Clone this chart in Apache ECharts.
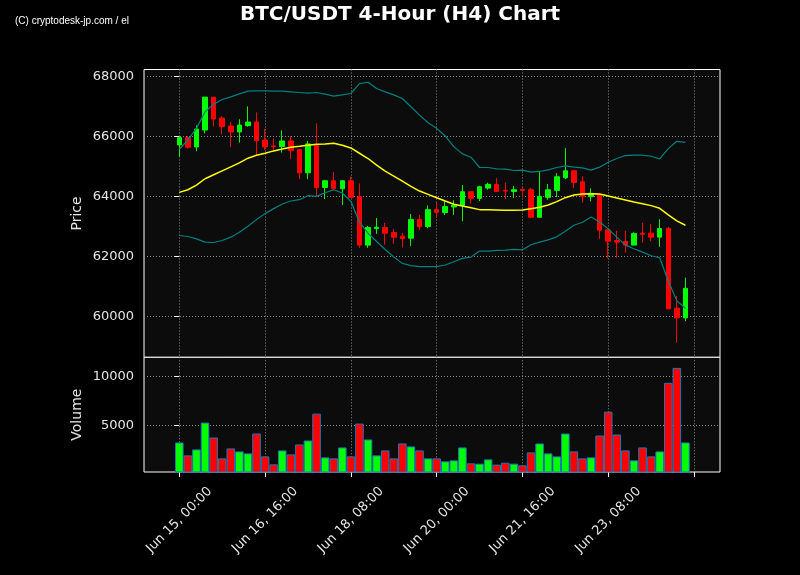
<!DOCTYPE html>
<html><head><meta charset="utf-8">
<script src="https://cdn.jsdelivr.net/npm/echarts@6/dist/echarts.min.js"></script>
<style>html,body{margin:0;padding:0;background:#000;} #c{width:800px;height:575px;}</style>
</head><body><div id="c"></div>
<script>
const openP  = [65713,65956,65646,66210,67304,66608,66342,66144,66354,66475,65878,65680,65657,65845,65558,64784,65713,64298,64519,64254,64519,63989,62376,62928,62962,62796,62674,62608,63226,62994,63558,63459,63646,63702,64155,63934,64276,64398,64199,64166,64232,64221,63304,63967,64199,64619,64851,64486,63989,64066,62884,62530,62497,62376,62773,62773,62641,62928,60276,59956];
const closeP = [65956,65635,66243,67304,66575,66320,66144,66376,66475,65856,65646,65657,65845,65525,64784,65746,64298,64519,64254,64519,63967,62376,62962,62972,62773,62641,62597,63226,62994,63558,63470,63658,63702,64155,63934,64320,64398,64166,64177,64221,64199,63304,64000,64221,64652,64851,64464,64000,64099,62873,62508,62475,62376,62762,62740,62641,62928,60254,59956,60939];
const lowP   = [65326,65591,65503,66099,66331,66066,65635,65790,66320,65381,65547,65547,65459,65238,64575,64575,64000,63912,64254,63713,63950,62287,62287,62751,62387,62420,62299,62343,62884,62939,63315,63382,63382,63171,63757,63845,64221,64166,63912,63945,63956,63271,63304,63889,63978,64575,64276,63790,63834,62586,61934,61956,62122,62376,62453,62508,62320,60254,59127,59845];
const highP  = [65960,66010,66365,67304,67304,66674,66475,66564,66994,66796,66243,65934,66199,66010,65558,65845,66431,64552,64807,64530,64652,64431,63017,63282,63117,62917,62785,63414,63381,63702,63779,63835,63868,64376,64160,64354,64453,64608,64453,64343,64320,64276,64807,64409,64774,65613,64860,64674,64265,64070,62890,62851,62851,62807,63117,63083,63238,62983,60685,61293];
const volume = [3278,1960,2568,5305,3784,1655,2669,2366,2163,4190,1859,1048,2467,2062,3075,3480,6217,1757,1655,2771,1859,5203,3582,1960,2467,1655,3176,2872,2467,1655,1655,1352,1453,2771,1150,1116,1555,1014,1217,1116,947,2264,3176,2163,1859,4190,2366,1655,1757,3987,6419,4089,2467,1453,2771,1859,2366,9358,10878,3278];
const bbMid  = [64133,64221,64376,64586,64718,64851,64983,65116,65271,65370,65436,65514,65580,65635,65668,65702,65735,65746,65768,65702,65613,65436,65260,65039,64840,64674,64508,64331,64177,64066,63956,63845,63735,63680,63624,63558,63558,63547,63536,63536,63547,63591,63635,63713,63823,63956,64044,64077,64088,64077,64011,63945,63879,63812,63757,63691,63602,63381,63182,63038];
const bbUpper = [65569,65878,66265,66818,67072,67227,67315,67414,67503,67514,67514,67503,67503,67481,67459,67437,67459,67403,67337,67381,67425,67757,67801,67591,67481,67381,67260,66983,66707,66453,66265,66011,65657,65414,65304,64961,64961,64917,64906,64862,64873,64807,64829,64884,64961,65017,64972,64950,64873,64972,65138,65260,65359,65370,65370,65337,65249,65591,65834,65801];
const bbLower = [62696,62663,62586,62475,62464,62530,62641,62806,63005,63226,63425,63591,63746,63845,63889,64022,64000,64122,64221,64111,63834,63138,62773,62497,62232,61978,61768,61691,61657,61657,61657,61713,61823,61934,61978,62177,62177,62199,62210,62232,62221,62387,62475,62552,62652,62840,63039,63138,63315,63149,62917,62641,62376,62254,62144,62022,61956,61182,60519,60276];
const xTickLabels = ['Jun 15, 00:00','Jun 16, 16:00','Jun 18, 08:00','Jun 20, 00:00','Jun 21, 16:00','Jun 23, 08:00'];
const xTickIndex = [0,10,20,30,40,50];
const xTickMarks = [0,10,20,30,40,50,60];
const priceTicks = [60000,62000,64000,66000,68000];
const volumeTicks = [5000,10000];

const UP = '#00ff00', DOWN = '#ff0000';
const FONT = 'DejaVu Sans';
const gridLine = {show:true, lineStyle:{color:'#8a8a8a', width:1, type:[1,2]}};
const xMin = -4.116, xMax = 63.03;
const plain = (v)=>String(Math.round(v));

const chart = echarts.init(document.getElementById('c'), null, {renderer:'canvas'});
chart.setOption({
  backgroundColor:'#000000',
  animation:false,
  title:{text:'BTC/USDT 4-Hour (H4) Chart', left:'center', top:0,
    textStyle:{color:'#ffffff', fontWeight:'bold', fontSize:20, fontFamily:FONT}},
  graphic:[{type:'text', left:15, top:16, style:{text:'(C) cryptodesk-jp.com / el', fill:'#ffffff', font:'10px "Liberation Sans"'}}],
  grid:[
    {left:144, top:69.5, width:576, height:287.8, show:true, backgroundColor:'#0c0c0c', borderColor:'#ffffff', borderWidth:1},
    {left:144, top:357.3, width:576, height:114.7, show:true, backgroundColor:'#0c0c0c', borderColor:'#ffffff', borderWidth:1}
  ],
  xAxis:[
    {type:'value', gridIndex:0, min:xMin, max:xMax, axisLine:{show:false},
      axisTick:{show:false, customValues:xTickMarks}, axisLabel:{show:false}, splitLine:gridLine},
    {type:'value', gridIndex:1, min:xMin, max:xMax, axisLine:{show:false},
      axisTick:{show:true, customValues:xTickMarks, length:5, lineStyle:{color:'#ffffff'}},
      axisLabel:{show:true, customValues:xTickIndex, rotate:45, align:'center', verticalAlign:'middle', margin:48,
        color:'#e6e6e6', fontSize:13, fontFamily:FONT,
        formatter:(v)=>{const k = xTickIndex.indexOf(Math.round(v)); return k>=0 ? xTickLabels[k] : '';}},
      splitLine:gridLine}
  ],
  yAxis:[
    {type:'value', gridIndex:0, min:58640, max:68225, axisLine:{show:false},
      axisTick:{show:true, customValues:priceTicks, length:5, lineStyle:{color:'#ffffff'}},
      axisLabel:{customValues:priceTicks, color:'#e6e6e6', fontSize:13, fontFamily:FONT, margin:10, formatter:plain},
      splitLine:gridLine,
      name:'Price', nameLocation:'middle', nameGap:60, nameMoveOverlap:false,
      nameTextStyle:{color:'#e6e6e6', fontSize:14, fontFamily:FONT}},
    {type:'value', gridIndex:1, min:265, max:11960, axisLine:{show:false},
      axisTick:{show:true, customValues:volumeTicks, length:5, lineStyle:{color:'#ffffff'}},
      axisLabel:{customValues:volumeTicks, color:'#e6e6e6', fontSize:13, fontFamily:FONT, margin:10, formatter:plain},
      splitLine:gridLine,
      name:'Volume', nameLocation:'middle', nameGap:60, nameMoveOverlap:false,
      nameTextStyle:{color:'#e6e6e6', fontSize:14, fontFamily:FONT}}
  ],
  series:[
    {type:'candlestick', xAxisIndex:0, yAxisIndex:0, barWidth:5,
      dimensions:['x','open','close','low','high'], encode:{x:0, y:[1,2,3,4]},
      data: openP.map((o,i)=>[i, o, closeP[i], lowP[i], highP[i]]),
      itemStyle:{color:UP, color0:DOWN, borderColor:UP, borderColor0:DOWN, borderWidth:1}, z:2},
    {type:'line', xAxisIndex:0, yAxisIndex:0, data:bbUpper.map((v,i)=>[i,v]), showSymbol:false,
      lineStyle:{color:'#008080', width:1.2}, z:3},
    {type:'line', xAxisIndex:0, yAxisIndex:0, data:bbLower.map((v,i)=>[i,v]), showSymbol:false,
      lineStyle:{color:'#008080', width:1.2}, z:3},
    {type:'line', xAxisIndex:0, yAxisIndex:0, data:bbMid.map((v,i)=>[i,v]), showSymbol:false,
      lineStyle:{color:'#ffff00', width:1.5}, z:3},
    {type:'bar', xAxisIndex:1, yAxisIndex:1, barWidth:8.58, clip:true,
      data: volume.map((v,i)=>({value:[i,v], itemStyle:{color: closeP[i]>=openP[i] ? UP : DOWN}})),
      itemStyle:{borderColor:'#1f77b4', borderWidth:1}}
  ]
});
</script></body></html>
